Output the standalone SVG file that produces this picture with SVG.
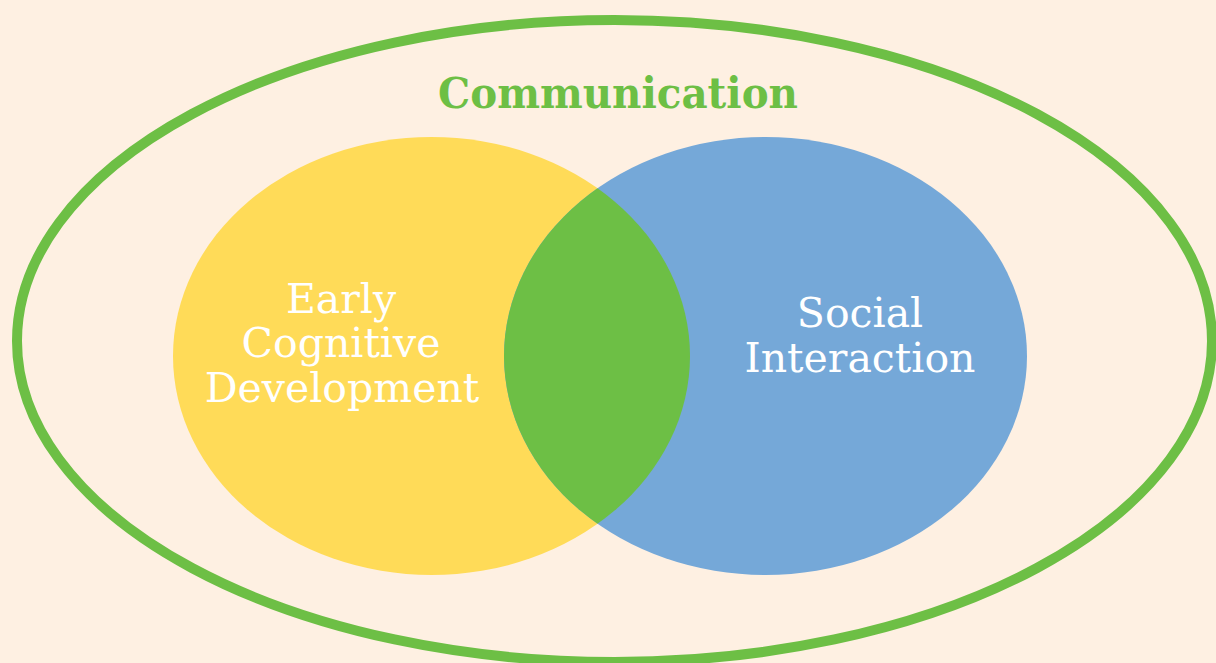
<svg xmlns="http://www.w3.org/2000/svg" width="1216" height="663" viewBox="0 0 1216 663">
<style>
.lbl{font-family:"DejaVu Serif","Liberation Serif",serif;font-size:41px;fill:#ffffff;text-anchor:middle}
.title{font-family:"DejaVu Serif","Liberation Serif",serif;font-size:43px;font-weight:bold;fill:#6DBF45;text-anchor:middle}
</style>
<defs>
<clipPath id="clipYellow"><ellipse cx="431.5" cy="356" rx="258.5" ry="219"/></clipPath>
</defs>
<rect width="1216" height="663" fill="#FEF0E2"/>
<g id="communication">
<ellipse cx="614.5" cy="341" rx="597.5" ry="321" fill="none" stroke="#6DBF45" stroke-width="10"/>
<text class="title" x="618" y="108" textLength="360" lengthAdjust="spacingAndGlyphs">Communication</text>
</g>
<g id="early-cognitive-development">
<ellipse cx="431.5" cy="356" rx="258.5" ry="219" fill="#FFDB58"/>
</g>
<g id="social-interaction">
<ellipse cx="765.5" cy="356" rx="261.5" ry="219" fill="#75A8D8"/>
</g>
<g id="overlap">
<ellipse cx="765.5" cy="356" rx="261.5" ry="219" fill="#6DBF45" clip-path="url(#clipYellow)"/>
</g>
<g id="labels">
<text class="lbl" x="341" y="313">Early</text>
<text class="lbl" x="341" y="357">Cognitive</text>
<text class="lbl" x="342" y="402">Development</text>
<text class="lbl" x="860" y="327">Social</text>
<text class="lbl" x="860" y="372">Interaction</text>
</g>
<g id="connectors"></g>
</svg>
